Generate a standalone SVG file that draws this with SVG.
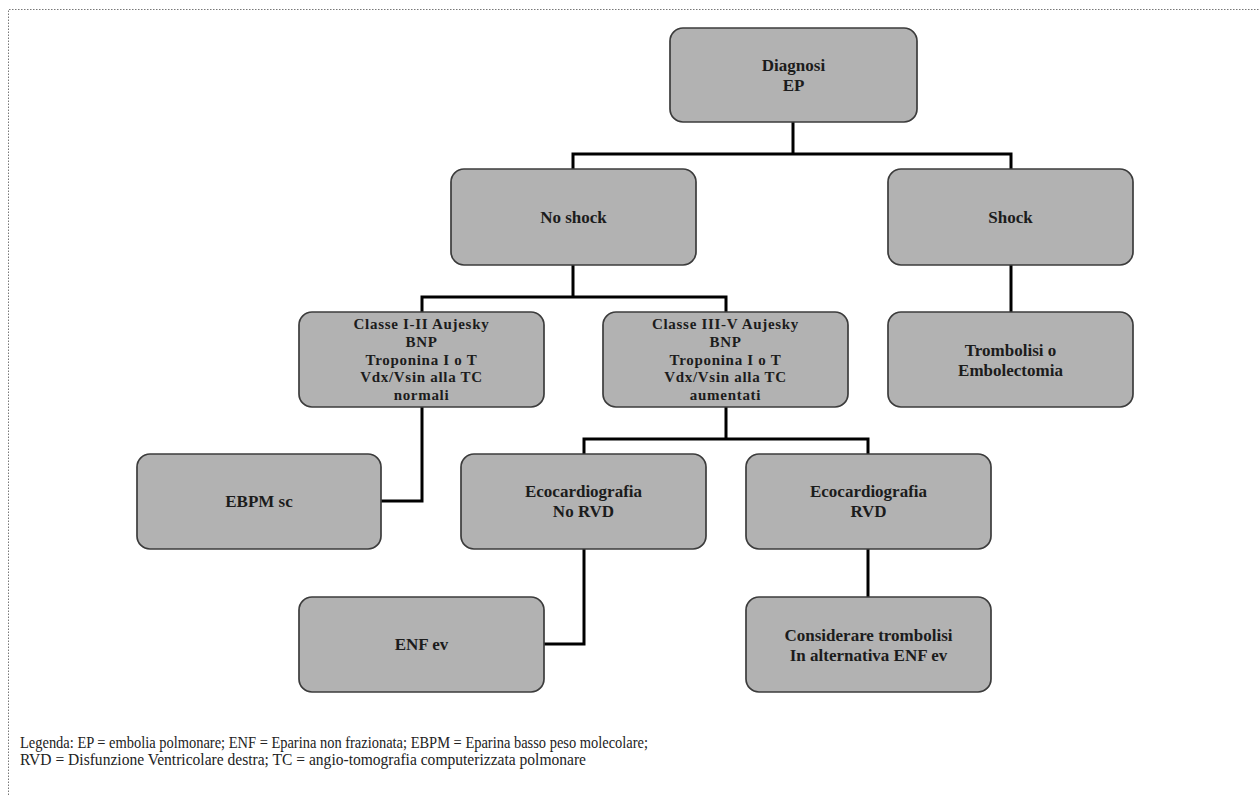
<svg xmlns="http://www.w3.org/2000/svg" width="1260" height="795" viewBox="0 0 1260 795">
<style>
.box{fill:#b2b2b2;stroke:#3c3c3c;stroke-width:1.7}
.t{font-family:"Liberation Serif","Times New Roman",serif;font-weight:bold;font-size:17px;fill:#1c1c1c;text-anchor:middle}
.s{font-size:15px;letter-spacing:0.7px}
.c{fill:none;stroke:#000;stroke-width:3;stroke-linejoin:miter;stroke-linecap:square}
.leg{font-family:"Liberation Serif","Times New Roman",serif;font-size:17px;fill:#222}
.frame{fill:none;stroke:#777;stroke-width:1;stroke-dasharray:1.5 1.5}
</style>
<rect width="1260" height="795" fill="#fff"/>
<path class="frame" d="M8.5,795 V9.5 H1260"/>
<g id="connectors">
<path class="c" d="M793,122 V154 M573,169 V154 H1011 V169"/>
<path class="c" d="M573,265 V297 M422,312 V297 H726 V312"/>
<path class="c" d="M1011,265 V312"/>
<path class="c" d="M422,407 V501 H381"/>
<path class="c" d="M726,407 V439 M584,454 V439 H868 V454"/>
<path class="c" d="M584,549 V644 H544"/>
<path class="c" d="M868,549 V597"/>
</g>
<g id="n-diagnosi"><rect class="box" x="670" y="28" width="247" height="94" rx="13"/><text class="t" x="793.5" y="71">Diagnosi</text><text class="t" x="793.5" y="91">EP</text></g>
<g id="n-noshock"><rect class="box" x="451" y="169" width="245" height="96" rx="13"/><text class="t" x="573.5" y="223">No shock</text></g>
<g id="n-shock"><rect class="box" x="888" y="169" width="245" height="96" rx="13"/><text class="t" x="1010.5" y="223">Shock</text></g>
<g id="n-classe12"><rect class="box" x="299" y="312" width="245" height="95" rx="13"/>
<text class="t s" x="421.5" y="329">Classe I-II Aujesky</text>
<text class="t s" x="421.5" y="347">BNP</text>
<text class="t s" x="421.5" y="365">Troponina I o T</text>
<text class="t s" x="421.5" y="382">Vdx/Vsin alla TC</text>
<text class="t s" x="421.5" y="400">normali</text></g>
<g id="n-classe35"><rect class="box" x="603" y="312" width="245" height="95" rx="13"/>
<text class="t s" x="725.5" y="329">Classe III-V Aujesky</text>
<text class="t s" x="725.5" y="347">BNP</text>
<text class="t s" x="725.5" y="365">Troponina I o T</text>
<text class="t s" x="725.5" y="382">Vdx/Vsin alla TC</text>
<text class="t s" x="725.5" y="400">aumentati</text></g>
<g id="n-trombolisi"><rect class="box" x="888" y="312" width="245" height="95" rx="13"/><text class="t" x="1010.5" y="356">Trombolisi o</text><text class="t" x="1010.5" y="376">Embolectomia</text></g>
<g id="n-ebpm"><rect class="box" x="137" y="454" width="244" height="95" rx="13"/><text class="t" x="259" y="507">EBPM sc</text></g>
<g id="n-eco-norvd"><rect class="box" x="461" y="454" width="245" height="95" rx="13"/><text class="t" x="583.5" y="497">Ecocardiografia</text><text class="t" x="583.5" y="517">No RVD</text></g>
<g id="n-eco-rvd"><rect class="box" x="746" y="454" width="245" height="95" rx="13"/><text class="t" x="868.5" y="497">Ecocardiografia</text><text class="t" x="868.5" y="517">RVD</text></g>
<g id="n-enf"><rect class="box" x="299" y="597" width="245" height="95" rx="13"/><text class="t" x="421.5" y="650">ENF ev</text></g>
<g id="n-considerare"><rect class="box" x="746" y="597" width="245" height="95" rx="13"/><text class="t" x="868.5" y="641">Considerare trombolisi</text><text class="t" x="868.5" y="661">In alternativa ENF ev</text></g>
<g id="legend">
<text class="leg" x="20" y="748" textLength="628" lengthAdjust="spacingAndGlyphs">Legenda: EP = embolia polmonare; ENF = Eparina non frazionata; EBPM = Eparina basso peso molecolare;</text>
<text class="leg" x="20" y="765" textLength="566" lengthAdjust="spacingAndGlyphs">RVD = Disfunzione Ventricolare destra; TC = angio-tomografia computerizzata polmonare</text>
</g>
</svg>
